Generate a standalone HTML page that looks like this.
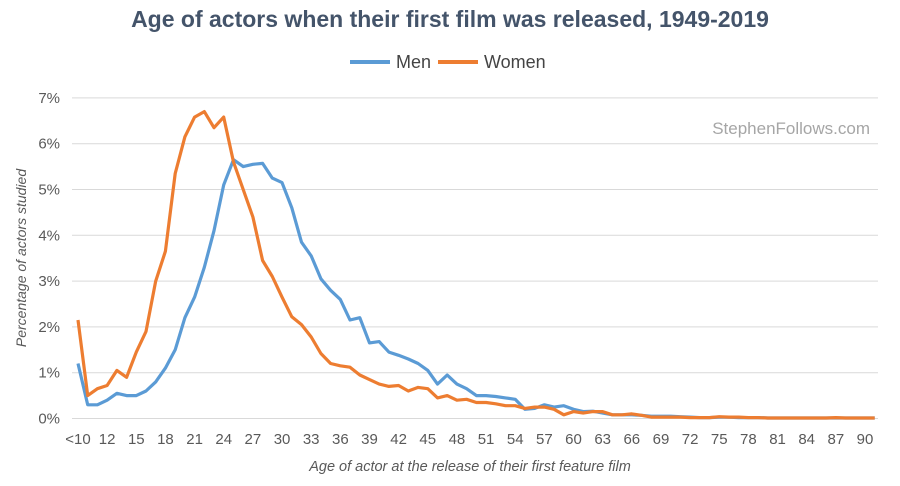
<!DOCTYPE html>
<html><head><meta charset="utf-8"><style>
body{margin:0;background:#fff;font-family:"Liberation Sans",sans-serif}
svg text{font-family:"Liberation Sans",sans-serif}
</style></head><body>
<svg id="c" width="900" height="481">
<text x="450" y="27" text-anchor="middle" font-size="23" font-weight="bold" fill="#44546a">Age of actors when their first film was released, 1949-2019</text>
<g>
<line x1="350" y1="62" x2="390" y2="62" stroke="#5b9bd5" stroke-width="4"/>
<text x="396" y="68" font-size="18" fill="#444">Men</text>
<line x1="438" y1="62" x2="478" y2="62" stroke="#ed7d31" stroke-width="4"/>
<text x="484" y="68" font-size="18" fill="#444">Women</text>
</g>
<text x="870" y="134" text-anchor="end" font-size="17" fill="#a6a6a6">StephenFollows.com</text>
<text transform="translate(26,258) rotate(-90)" text-anchor="middle" font-size="14" font-style="italic" fill="#595959">Percentage of actors studied</text>
<text x="470" y="471" text-anchor="middle" font-size="14.5" font-style="italic" fill="#595959">Age of actor at the release of their first feature film</text>
<g id="grid"></g><g id="ylab"></g><g id="xlab"></g><g id="lines"></g>
</svg>
<script>
const categories=["<10"];for(let a=10;a<=91;a++)categories.push(String(a));
const menValues=[1.2,0.3,0.3,0.4,0.55,0.5,0.5,0.6,0.8,1.1,1.5,2.2,2.65,3.3,4.1,5.1,5.65,5.5,5.55,5.57,5.25,5.15,4.6,3.85,3.55,3.05,2.8,2.6,2.15,2.2,1.65,1.68,1.45,1.38,1.3,1.2,1.05,0.75,0.95,0.75,0.65,0.5,0.5,0.48,0.45,0.42,0.2,0.22,0.3,0.25,0.28,0.2,0.15,0.16,0.12,0.08,0.08,0.08,0.07,0.05,0.05,0.05,0.04,0.03,0.02,0.02,0.03,0.03,0.02,0.02,0.02,0.01,0.01,0.01,0.01,0.01,0.01,0.01,0.01,0.01,0.01,0.01,0.01];
const womenValues=[2.15,0.5,0.65,0.72,1.05,0.9,1.45,1.9,3.0,3.65,5.35,6.15,6.58,6.7,6.35,6.58,5.6,5.0,4.4,3.45,3.1,2.65,2.22,2.05,1.78,1.42,1.2,1.15,1.12,0.95,0.85,0.75,0.7,0.72,0.6,0.68,0.65,0.45,0.5,0.4,0.42,0.35,0.35,0.32,0.28,0.28,0.22,0.25,0.25,0.2,0.08,0.15,0.12,0.15,0.15,0.08,0.08,0.1,0.07,0.03,0.03,0.03,0.03,0.02,0.02,0.02,0.04,0.03,0.03,0.02,0.02,0.01,0.01,0.01,0.01,0.01,0.01,0.01,0.02,0.01,0.01,0.01,0.01];
const yTicks=[0,1,2,3,4,5,6,7];
const NS="http://www.w3.org/2000/svg";
const x0=78,xStep=9.716,yBase=418.5,yUnit=45.8,xRight=878;
const X=i=>x0+i*xStep, Y=v=>yBase-v*yUnit;
function mk(t,a,p){const e=document.createElementNS(NS,t);for(const k in a)e.setAttribute(k,a[k]);document.getElementById(p).appendChild(e);return e;}
yTicks.forEach(t=>{
 const l=mk('line',{x1:72,x2:xRight,y1:Y(t),y2:Y(t),stroke:'#d9d9d9','stroke-width':1},'grid');
 
 
 const tx=mk('text',{x:60,y:Y(t)+5,'text-anchor':'end','font-size':15,fill:'#595959'},'ylab');
 tx.textContent=t+'%';
 
 
});
categories.forEach((c,i)=>{if(i%3)return;
 const tx=mk('text',{x:X(i),y:444,'text-anchor':'middle','font-size':15,fill:'#595959'},'xlab');
 tx.textContent=c;
 
 
});
[[menValues,'#5b9bd5','men-line'],[womenValues,'#ed7d31','women-line']].forEach(([vals,col,name])=>{
 const p=mk('polyline',{points:vals.map((v,i)=>X(i).toFixed(1)+','+Y(v).toFixed(1)).join(' '),fill:'none',stroke:col,'stroke-width':3.2,'stroke-linejoin':'round'},'lines');
 
 
});
</script>
</body></html>
